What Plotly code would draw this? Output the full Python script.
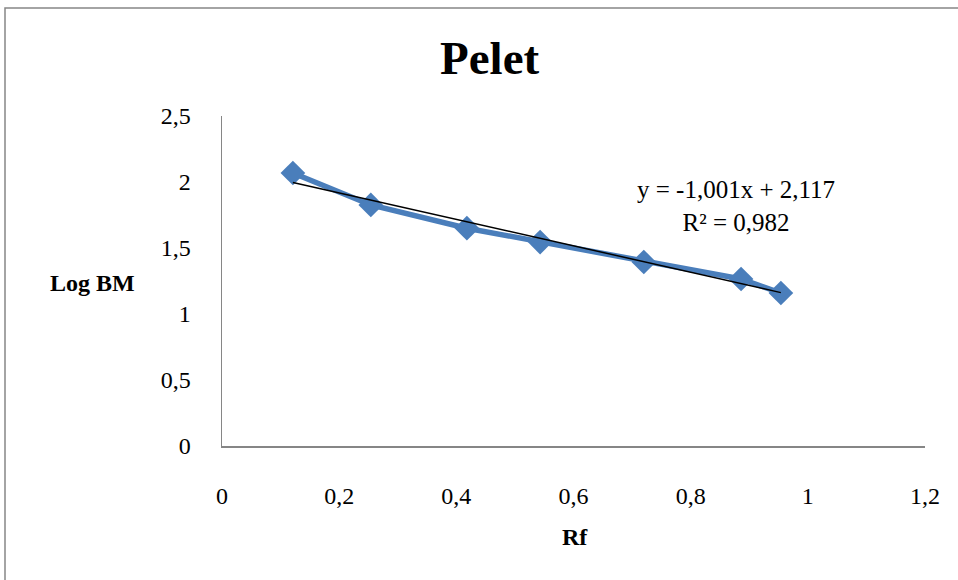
import plotly.graph_objects as go

rf = [0.121, 0.254, 0.418, 0.543, 0.72, 0.886, 0.954]
log_bm = [2.068, 1.826, 1.650, 1.545, 1.394, 1.265, 1.159]
slope = -1.001
intercept = 2.117
eq_text = "y = -1,001x + 2,117<br>R² = 0,982"

trend_x = [min(rf), max(rf)]
trend_y = [slope * v + intercept for v in trend_x]

FONT = "Liberation Serif, Times New Roman, serif"

fig = go.Figure()
fig.add_trace(go.Scatter(
    x=rf, y=log_bm, mode="lines+markers",
    line=dict(color="#4A7EBB", width=5.5),
    marker=dict(symbol="diamond", size=19, color="#4A7EBB"),
    showlegend=False, hoverinfo="skip"))
fig.add_trace(go.Scatter(
    x=trend_x, y=trend_y, mode="lines",
    line=dict(color="black", width=1.5),
    showlegend=False, hoverinfo="skip"))

fig.update_layout(
    width=958, height=580,
    margin=dict(l=222, r=33, t=116, b=134),
    paper_bgcolor="white", plot_bgcolor="white",
    separators=",.",
    font=dict(family=FONT, size=24, color="black"),
    xaxis=dict(range=[0, 1.2], dtick=0.2, tick0=0, showgrid=False, zeroline=False,
               showline=True, linecolor="#868686", linewidth=1.5,
               ticks="", ticklabelstandoff=28,
               tickfont=dict(family=FONT, size=24)),
    yaxis=dict(range=[0, 2.5], dtick=0.5, tick0=0, showgrid=False, zeroline=False,
               showline=True, linecolor="#868686", linewidth=1.5,
               ticks="", ticklabelstandoff=25,
               tickfont=dict(family=FONT, size=24)),
    annotations=[
        dict(text="<b>Pelet</b>", xref="paper", yref="paper",
             x=(489 - 222) / 703, y=(446 - 58) / 330, showarrow=False,
             font=dict(family=FONT, size=47), xanchor="center", yanchor="middle"),
        dict(text="<b>Log BM</b>", xref="paper", yref="paper",
             x=(92 - 222) / 703, y=(446 - 283) / 330, showarrow=False,
             font=dict(family=FONT, size=24), xanchor="center", yanchor="middle"),
        dict(text="<b>Rf</b>", xref="paper", yref="paper",
             x=(575 - 222) / 703, y=(446 - 537) / 330, showarrow=False,
             font=dict(family=FONT, size=24), xanchor="center", yanchor="middle"),
        dict(text=eq_text, xref="paper", yref="paper",
             x=(736 - 222) / 703, y=(446 - 206) / 330, showarrow=False,
             font=dict(family=FONT, size=25), xanchor="center", yanchor="middle",
             align="center"),
    ],
    shapes=[
        dict(type="rect", xref="paper", yref="paper",
             x0=(5 - 222) / 703, x1=(990 - 222) / 703,
             y0=(446 - 620) / 330, y1=(446 - 8) / 330,
             line=dict(color="#868686", width=1.5), fillcolor="rgba(0,0,0,0)",
             layer="below"),
    ],
)

fig.write_html(
    "out.html",
    config={"displayModeBar": False, "staticPlot": True},
    post_script="document.body.style.margin='0';document.body.style.padding='0';document.body.style.overflow='hidden';",
)
